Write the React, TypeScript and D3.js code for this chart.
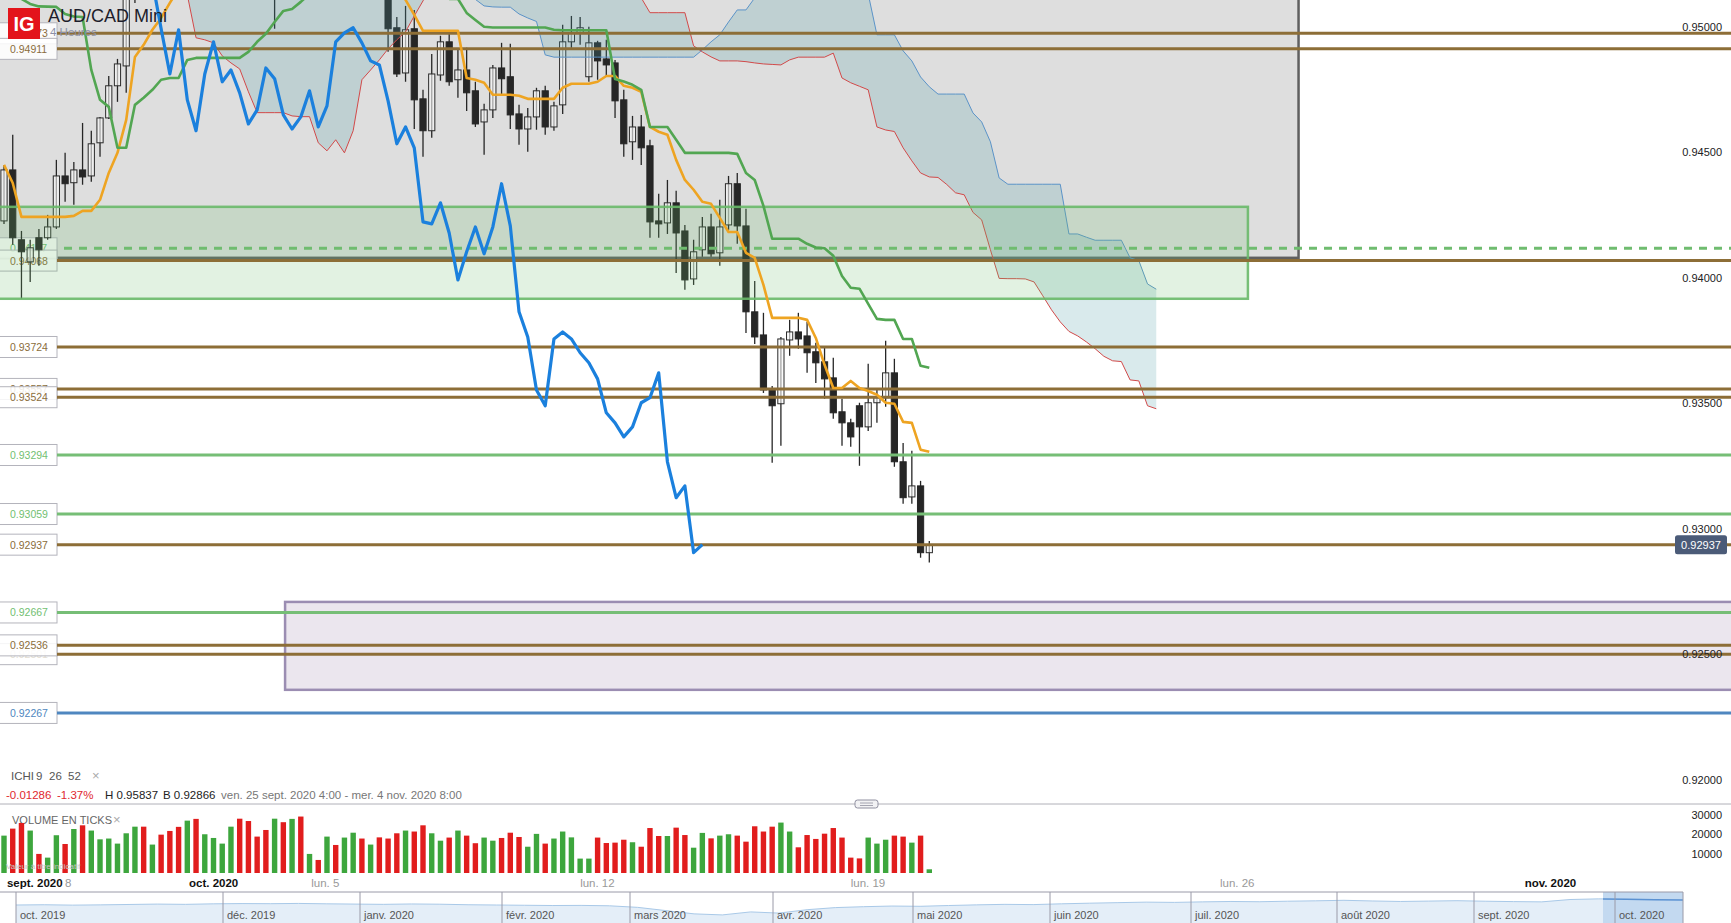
import * as d3 from 'd3';
import React from 'react';

const WIDTH = 1731;
const HEIGHT = 923;
const FONT = '"Liberation Sans", Arial, sans-serif';

// AUD/CAD Mini, 4 Heures -- ven. 25 sept. 2020 4:00 -> mer. 4 nov. 2020 8:00
const opens = [
  0.94226, 0.94429, 0.94151, 0.94063, 0.94159, 0.94159, 0.94202, 0.94405, 0.94378, 0.94429, 0.94405, 0.94537, 0.94636, 0.94764, 0.94843, 0.95270,
  0.95380, 0.95300, 0.95480, 0.95400, 0.95330, 0.95250, 0.95490, 0.95450, 0.95610, 0.95700, 0.95780, 0.95790, 0.95640, 0.95480, 0.95330, 0.95160, 0.95310, 0.95220, 0.95410, 0.95330, 0.95480, 0.95380, 0.95520, 0.95410, 0.95460, 0.95490, 0.95330, 0.95400,
  0.95150, 0.94995, 0.94815, 0.94991, 0.94712, 0.94585, 0.94807, 0.94939, 0.94788, 0.94827, 0.94744, 0.94620, 0.94668, 0.94835, 0.94800, 0.94652, 0.94592, 0.94640, 0.94744, 0.94600, 0.94688, 0.94939, 0.94975, 0.94800, 0.94935, 0.94871, 0.94855, 0.94708, 0.94541, 0.94600, 0.94525, 0.94226, 0.94218, 0.94298, 0.94186, 0.93995, 0.94111, 0.94202, 0.94099, 0.94210, 0.94374, 0.94206, 0.93864, 0.93772, 0.93557, 0.93498, 0.93752, 0.93784, 0.93768, 0.93705, 0.93665, 0.93601, 0.93466, 0.93422, 0.93490, 0.93406, 0.93502, 0.93522, 0.93621, 0.93267, 0.93127, 0.93171, 0.92905,
];
const highs = [
  0.94449, 0.94569, 0.94186, 0.94151, 0.94194, 0.94250, 0.94469, 0.94497, 0.94461, 0.94616, 0.94585, 0.94640, 0.94803, 0.94871, 0.95350, 0.95420,
  0.95450, 0.95510, 0.95540, 0.95440, 0.95390, 0.95520, 0.95580, 0.95640, 0.95720, 0.95837, 0.95820, 0.95810, 0.95680, 0.95520, 0.95380, 0.95350, 0.95400, 0.95440, 0.95470, 0.95520, 0.95530, 0.95560, 0.95580, 0.95500, 0.95530, 0.95520, 0.95450, 0.95440,
  0.95190, 0.95038, 0.95082, 0.95066, 0.94748, 0.94891, 0.94963, 0.94975, 0.94907, 0.94915, 0.94780, 0.94692, 0.94847, 0.94935, 0.94931, 0.94688, 0.94676, 0.94756, 0.94764, 0.94700, 0.95007, 0.95042, 0.95038, 0.94999, 0.94943, 0.94947, 0.94867, 0.94748, 0.94644, 0.94648, 0.94549, 0.94334, 0.94389, 0.94346, 0.94210, 0.94151, 0.94242, 0.94254, 0.94310, 0.94405, 0.94417, 0.94274, 0.93987, 0.93860, 0.93569, 0.93764, 0.93832, 0.93860, 0.93824, 0.93741, 0.93725, 0.93681, 0.93518, 0.93438, 0.93502, 0.93657, 0.93553, 0.93749, 0.93677, 0.93342, 0.93311, 0.93191, 0.92952,
];
const lows = [
  0.94214, 0.94131, 0.93916, 0.93983, 0.94047, 0.94151, 0.94194, 0.94302, 0.94290, 0.94370, 0.94382, 0.94481, 0.94632, 0.94700, 0.94736, 0.95094,
  0.95250, 0.95260, 0.95360, 0.95280, 0.95200, 0.95230, 0.95420, 0.95430, 0.95580, 0.95660, 0.95690, 0.95600, 0.95450, 0.95300, 0.95120, 0.94991, 0.95180, 0.95190, 0.95300, 0.95310, 0.95350, 0.95340, 0.95380, 0.95330, 0.95400, 0.95300, 0.95280, 0.95140,
  0.94899, 0.94799, 0.94780, 0.94592, 0.94481, 0.94557, 0.94784, 0.94764, 0.94716, 0.94664, 0.94600, 0.94489, 0.94636, 0.94724, 0.94592, 0.94529, 0.94501, 0.94589, 0.94569, 0.94585, 0.94652, 0.94915, 0.94927, 0.94780, 0.94788, 0.94800, 0.94636, 0.94481, 0.94469, 0.94449, 0.94159, 0.94159, 0.94174, 0.94019, 0.93952, 0.93971, 0.94083, 0.94083, 0.94047, 0.94190, 0.94135, 0.93780, 0.93736, 0.93541, 0.93263, 0.93331, 0.93689, 0.93717, 0.93621, 0.93581, 0.93518, 0.93438, 0.93331, 0.93327, 0.93251, 0.93390, 0.93422, 0.93486, 0.93247, 0.93100, 0.93100, 0.92885, 0.92866,
];
const closes = [
  0.94429, 0.94159, 0.94103, 0.94119, 0.94111, 0.94202, 0.94405, 0.94374, 0.94429, 0.94401, 0.94533, 0.94636, 0.94764, 0.94851, 0.95280, 0.95380,
  0.95300, 0.95480, 0.95400, 0.95330, 0.95250, 0.95490, 0.95450, 0.95610, 0.95700, 0.95780, 0.95790, 0.95640, 0.95480, 0.95330, 0.95160, 0.95310, 0.95220, 0.95410, 0.95330, 0.95480, 0.95380, 0.95520, 0.95410, 0.95460, 0.95490, 0.95330, 0.95400, 0.95180,
  0.94991, 0.94811, 0.94987, 0.94708, 0.94585, 0.94811, 0.94939, 0.94780, 0.94827, 0.94736, 0.94612, 0.94668, 0.94835, 0.94792, 0.94648, 0.94592, 0.94640, 0.94744, 0.94600, 0.94684, 0.94939, 0.94975, 0.94995, 0.94935, 0.94863, 0.94847, 0.94704, 0.94533, 0.94600, 0.94517, 0.94222, 0.94214, 0.94298, 0.94178, 0.93991, 0.94103, 0.94202, 0.94095, 0.94202, 0.94374, 0.94206, 0.93864, 0.93764, 0.93553, 0.93490, 0.93756, 0.93784, 0.93756, 0.93701, 0.93661, 0.93597, 0.93462, 0.93422, 0.93366, 0.93406, 0.93502, 0.93522, 0.93621, 0.93267, 0.93124, 0.93171, 0.92905, 0.92937,
];
const volumes = [
  19200, 22800, 25700, 21800, 9800, 7900, 19400, 14900, 22600, 24500, 21800, 17300, 17700, 15100, 20400, 23800, 23800, 14600, 19700, 21600,
  23700, 26900, 27800, 19900, 18000, 15100, 23800, 27900, 26700, 18700, 22100, 27900, 26100, 27800, 29000, 9800, 6700, 18700, 14400, 18200,
  20700, 17700, 14600, 18300, 17700, 20400, 21800, 21300, 24500, 20400, 16600, 18200, 21800, 19200, 15300, 18200, 16600, 18000, 20700, 18500,
  13500, 20100, 15100, 17700, 21300, 18300, 7400, 7400, 18200, 15400, 15600, 17100, 15800, 13500, 23100, 19000, 19000, 23300, 19500, 13000,
  20600, 17800, 19200, 19900, 19200, 16100, 24000, 21300, 23800, 25900, 21300, 13200, 19500, 17500, 20200, 23100, 18200, 7900, 7500, 18200,
  15100, 17100, 19200, 18700, 15600, 19200, 1900,
];

// Ichimoku 9 26 52
const tenkan = [
  0.94449, 0.94377, 0.94242, 0.94242, 0.94242, 0.94242, 0.94242, 0.94242, 0.94246, 0.94266, 0.94266, 0.94310, 0.94417, 0.94497, 0.94628, 0.94879, 0.94927, 0.94987, 0.95034, 0.95094,
  0.9515, 0.9521, 0.9527, 0.9533, 0.9538, 0.9543, 0.9548, 0.9551, 0.9553, 0.9553, 0.9553, 0.9552, 0.9550, 0.9547, 0.9545, 0.9545, 0.9543, 0.9540, 0.9538, 0.9535, 0.9533, 0.9530, 0.9527, 0.9525, 0.9522, 0.9517,
  0.95106, 0.95046, 0.94983, 0.94983, 0.94983, 0.94983, 0.94983, 0.94795, 0.94788, 0.94776, 0.94728, 0.94728, 0.94728, 0.94724, 0.94712, 0.94712, 0.94712, 0.94712, 0.94756, 0.94772, 0.94772, 0.94772, 0.94780, 0.94803, 0.94803, 0.94764, 0.94756, 0.94740, 0.94600, 0.94581, 0.94569, 0.94469, 0.94389, 0.94350, 0.94302, 0.94294, 0.94238, 0.94182, 0.94182, 0.94099, 0.94079, 0.93971, 0.93840, 0.93840, 0.93840, 0.93840, 0.93832, 0.93760, 0.93653, 0.93561, 0.93561, 0.93589, 0.93561, 0.93549, 0.93534, 0.93502, 0.93498, 0.93426, 0.93422, 0.93315, 0.93307,
];
const kijun = [
  0.9513, 0.9512, 0.9511,
  0.95090, 0.95080, 0.95079, 0.95078, 0.95050, 0.95040, 0.95038, 0.94827, 0.94708, 0.94680, 0.94517, 0.94517, 0.94688, 0.94716, 0.94748, 0.94788, 0.94795, 0.94795, 0.94867, 0.94875, 0.94875, 0.94875, 0.94875, 0.94875, 0.94875, 0.94899, 0.94939, 0.94971, 0.95018, 0.95062, 0.95070, 0.95098,
  0.9513, 0.9517, 0.9520, 0.9522, 0.9524, 0.9525, 0.9525, 0.9525, 0.9524, 0.9523, 0.9522, 0.9520, 0.9518, 0.9516, 0.9514, 0.9512, 0.9511,
  0.95110, 0.95054, 0.95026, 0.94999, 0.94996, 0.94996, 0.94996, 0.94996, 0.94996, 0.94996, 0.94996, 0.94987, 0.94985, 0.94985, 0.94985, 0.94985, 0.94985, 0.94985, 0.94791, 0.94781, 0.94768, 0.94748, 0.94600, 0.94600, 0.94600, 0.94549, 0.94497, 0.94497, 0.94497, 0.94497, 0.94497, 0.94497, 0.94493, 0.94417, 0.94389, 0.94286, 0.94155, 0.94155, 0.94155, 0.94155, 0.94135, 0.94120, 0.94117, 0.94087, 0.94007, 0.93960, 0.93956, 0.93896, 0.93836, 0.93832, 0.93832, 0.93756, 0.93756, 0.93649, 0.93641,
];
const senkouA = [
  0.9560, 0.9561, 0.9562, 0.9562, 0.9563, 0.9563, 0.9564, 0.9564, 0.9563, 0.9562, 0.9561, 0.9560, 0.9558, 0.9556, 0.9554, 0.9552, 0.9550, 0.9548, 0.9546, 0.9545,
  0.9544, 0.9543, 0.9542, 0.9541, 0.9540, 0.9539, 0.9538, 0.9537, 0.9536, 0.9535, 0.9534, 0.9533, 0.9532, 0.9531, 0.9530, 0.9529, 0.9528, 0.9527, 0.9526, 0.9525,
  0.9524, 0.9523, 0.9522, 0.9521, 0.9520, 0.9519, 0.9518, 0.9517, 0.9516, 0.9515, 0.9514, 0.9513, 0.9512, 0.9511, 0.95108,
  0.95082, 0.95078, 0.95077, 0.95077, 0.95050, 0.95034, 0.95020, 0.94887, 0.94878, 0.94878, 0.94878, 0.94878, 0.94878, 0.94878, 0.94878, 0.94878, 0.94878, 0.94878, 0.94878, 0.94878, 0.94878, 0.94878, 0.94878, 0.94878, 0.94878, 0.94907, 0.94939, 0.94967, 0.95018, 0.95066, 0.95066, 0.95114,
  0.9515, 0.9518, 0.9520, 0.9522, 0.9523, 0.9523, 0.9523, 0.9522, 0.9521, 0.9519, 0.9517, 0.9515, 0.9513,
  0.94967, 0.94967, 0.94967, 0.94903, 0.94863, 0.94799, 0.94760, 0.94731, 0.94731, 0.94731, 0.94731, 0.94656, 0.94620, 0.94541, 0.94397, 0.94372, 0.94372, 0.94372, 0.94372, 0.94372, 0.94372, 0.94372, 0.94174, 0.94174, 0.94161, 0.94149, 0.94149, 0.94149, 0.94149, 0.94079, 0.94068, 0.93975, 0.93954,
];
const senkouB = [
  0.9545, 0.9545, 0.9544, 0.9543, 0.9542, 0.9540, 0.9538, 0.9536, 0.9534, 0.9532, 0.9530, 0.9528, 0.9526, 0.9524, 0.9522, 0.9520, 0.9518, 0.9517, 0.9516, 0.9515, 0.9514,
  0.95126, 0.94955, 0.94947, 0.94935, 0.94883, 0.94855, 0.94831, 0.94740, 0.94657, 0.94657, 0.94657, 0.94657, 0.94644, 0.94641, 0.94641, 0.94537, 0.94505, 0.94549, 0.94497, 0.94585, 0.94788, 0.94827, 0.94867, 0.94911, 0.94947, 0.94979, 0.95042, 0.95102,
  0.9516, 0.9521, 0.9525, 0.9528, 0.9530, 0.9532, 0.9533, 0.9533, 0.9533, 0.9532, 0.9530, 0.9528, 0.9526, 0.9524, 0.9522, 0.9520, 0.9519, 0.9518, 0.9517, 0.9516, 0.9515, 0.9514, 0.9513, 0.9512,
  0.95114, 0.95055, 0.95055, 0.95055, 0.95055, 0.95055, 0.94923, 0.94899, 0.94879, 0.94863, 0.94863, 0.94863, 0.94860, 0.94855, 0.94851, 0.94849, 0.94847, 0.94867, 0.94878, 0.94878, 0.94878, 0.94878, 0.94894, 0.94795, 0.94776, 0.94762, 0.94748,
  0.94600, 0.94588, 0.94582, 0.94517, 0.94465, 0.94417, 0.94401, 0.94399, 0.94371, 0.94338, 0.94330, 0.94260, 0.94230, 0.94111, 0.93997, 0.93996, 0.93996, 0.93995, 0.93983, 0.93928, 0.93872, 0.93824, 0.93786, 0.93768, 0.93744, 0.93717, 0.93687, 0.93669, 0.93666, 0.93593, 0.93589, 0.93490, 0.93478,
];
const CHIKOU_SHIFT = 26;

// horizontal levels drawn on the chart (draw order kept)
const levelPrices = [0.94973, 0.94911, 0.94117, 0.94068, 0.93724, 0.93557, 0.93524, 0.93294, 0.93059, 0.92937, 0.92667, 0.92501, 0.92536, 0.92267];
const levelKinds = ['brown', 'brown', 'greenDash', 'brown', 'brown', 'brown', 'brown', 'green', 'green', 'brown', 'green', 'ghost', 'brown', 'blue'];

// rectangles: price top / bottom, candle index start / end
const zoneKinds = ['gray', 'purple', 'green'];
const zoneTop = [0.9600, 0.92709, 0.94282];
const zoneBottom = [0.94079, 0.92359, 0.93916];
const zoneStart = [-3, 32.2, -3];
const zoneEnd = [148.3, 210, 142.5];

const priceTicks = [0.95, 0.945, 0.94, 0.935, 0.93, 0.925, 0.92];
const volumeTicks = [30000, 20000, 10000];
const lastPrice = 0.92937;

const timeLabels = ['sept. 2020', '8', 'oct. 2020', 'lun. 5', 'lun. 12', 'lun. 19', 'lun. 26', 'nov. 2020'];
const timeLabelIdx = [0.34, 7, 21.2, 35.2, 66, 97, 139.3, 174.2];
const timeLabelMajor = [true, false, true, false, false, false, false, true];

const navMonths = ['oct. 2019', 'déc. 2019', 'janv. 2020', 'févr. 2020', 'mars 2020', 'avr. 2020', 'mai 2020', 'juin 2020', 'juil. 2020', 'août 2020', 'sept. 2020', 'oct. 2020'];
const navMonthDates = ['2019-10-01', '2019-12-01', '2020-01-01', '2020-02-01', '2020-03-01', '2020-04-01', '2020-05-01', '2020-06-01', '2020-07-01', '2020-08-01', '2020-09-01', '2020-10-01', '2020-11-04'];
const navValues = [
  0.888, 0.890, 0.887, 0.889, 0.892, 0.895, 0.893, 0.897, 0.899, 0.898, 0.900, 0.897, 0.895, 0.893, 0.896, 0.894, 0.890, 0.888, 0.886, 0.884,
  0.885, 0.882, 0.870, 0.845, 0.820, 0.812, 0.835, 0.826, 0.852, 0.868, 0.875, 0.880, 0.878, 0.884, 0.889, 0.893, 0.891, 0.897, 0.902, 0.906,
  0.910, 0.908, 0.912, 0.915, 0.913, 0.917, 0.920, 0.924, 0.919, 0.915, 0.918, 0.921, 0.917, 0.914, 0.912, 0.930, 0.935, 0.933, 0.929, 0.927,
];
const navSelectFrom = '2020-10-15';

const LEVEL_COLOR: Record<string, string> = {
  brown: '#8d6e37', ghost: '#8d6e37', green: '#76be76', greenDash: '#6fbc6f', blue: '#4f87c0',
};
const LABEL_COLOR: Record<string, string> = {
  brown: '#8a6d3b', ghost: '#e2ddd2', green: '#72c072', greenDash: '#72c072', blue: '#4f87c0',
};

export default function App() {
  const n = closes.length;
  const x = d3.scaleLinear().domain([0, 106]).range([4, 929.3]);
  const y = d3.scaleLinear().domain([0.92, 0.95]).range([780, 26.5]);
  const vy = d3.scaleLinear().domain([0, 30000]).range([873, 814.6]);

  const lineOf = (vals: number[]) =>
    d3.line<number>().x((_, i) => x(i)).y(v => y(v))(vals) || '';

  const cloudIdx = d3.range(Math.min(senkouA.length, senkouB.length));
  const cloud = d3.area<number>()
    .x(i => x(i)).y0(i => y(senkouA[i])).y1(i => y(senkouB[i]))(cloudIdx) || '';
  const chikou = closes.slice(CHIKOU_SHIFT);

  const navX = d3.scaleTime()
    .domain(navMonthDates.map(d => new Date(d)))
    .range([16, 223, 360, 502, 630, 773, 913, 1050, 1191, 1337, 1474, 1615, 1683]);
  const navY = d3.scaleLinear().domain([0.75, 0.98]).range([923, 893]);
  const navXi = d3.scaleLinear().domain([0, navValues.length - 1]).range(navX.range().filter((_, i, a) => i === 0 || i === a.length - 1));
  const navArea = d3.area<number>().x((_, i) => navXi(i)).y0(HEIGHT).y1(v => navY(v))(navValues) || '';
  const navLine = d3.line<number>().x((_, i) => navXi(i)).y(v => navY(v))(navValues) || '';
  const selX = navX(new Date(navSelectFrom)) - 40;

  const bodyW = 6.2;

  return (
    <div style={{ position: 'absolute', left: 0, top: 0 }}>
      <svg width={WIDTH} height={HEIGHT} style={{ display: 'block', fontFamily: FONT }}>
        <defs>
          <clipPath id="plot"><rect x={0} y={0} width={WIDTH} height={803} /></clipPath>
          <clipPath id="nav"><rect x={0} y={892} width={1683} height={31} /></clipPath>
          <clipPath id="navSel"><rect x={selX} y={892} width={1683 - selX} height={31} /></clipPath>
        </defs>
        <rect x={0} y={0} width={WIDTH} height={HEIGHT} fill="#fff" />

        <g clipPath="url(#plot)">
          {/* gray and purple zones below the marks */}
          {zoneKinds.map((k, i) => k === 'green' ? null : (
            <rect key={k} x={x(zoneStart[i])} y={y(zoneTop[i])}
              width={x(zoneEnd[i]) - x(zoneStart[i])} height={y(zoneBottom[i]) - y(zoneTop[i])}
              fill={k === 'gray' ? '#dedede' : '#ebe6ee'}
              stroke={k === 'gray' ? '#606060' : '#9b8db2'} strokeWidth={2.5} />
          ))}

          {/* level label boxes */}
          {levelPrices.map((p, i) => (
            <g key={'lb' + i}>
              <rect x={-1} y={y(p) - 10.5} width={58} height={21} fill="rgba(255,255,255,0.86)" stroke="#b4b4bc" strokeWidth={1} />
              <text x={10} y={y(p) + 4} fontSize={10.5} fill={LABEL_COLOR[levelKinds[i]]}>{p.toFixed(5)}</text>
            </g>
          ))}

          {/* candles */}
          {d3.range(n).map(i => {
            const up = closes[i] >= opens[i];
            const top = y(Math.max(opens[i], closes[i]));
            const h = Math.max(1, Math.abs(y(opens[i]) - y(closes[i])));
            return (
              <g key={'c' + i}>
                <line x1={x(i)} x2={x(i)} y1={y(highs[i])} y2={y(lows[i])} stroke="#262626" strokeWidth={1.3} />
                <rect x={x(i) - bodyW / 2} y={top} width={bodyW} height={h}
                  fill={up ? 'rgba(250,250,250,0.6)' : '#262626'} stroke={up ? '#2a2a2a' : '#262626'} strokeWidth={1} />
              </g>
            );
          })}

          {/* kumo */}
          <path d={cloud} fill="rgba(80,160,170,0.22)" />
          <path d={lineOf(senkouA)} fill="none" stroke="#5b93c8" strokeWidth={1} />
          <path d={lineOf(senkouB)} fill="none" stroke="#d24a4a" strokeWidth={1} />

          {/* green zone over the candles */}
          {zoneKinds.map((k, i) => k !== 'green' ? null : (
            <rect key={k} x={x(zoneStart[i])} y={y(zoneTop[i])}
              width={x(zoneEnd[i]) - x(zoneStart[i])} height={y(zoneBottom[i]) - y(zoneTop[i])}
              fill="rgba(110,190,110,0.2)" stroke="rgba(105,185,105,0.9)" strokeWidth={2.5} />
          ))}

          {/* horizontal levels */}
          {levelPrices.map((p, i) => (
            <line key={'lv' + i} x1={levelKinds[i] === 'greenDash' ? 64 : 57} x2={WIDTH} y1={y(p)} y2={y(p)}
              stroke={LEVEL_COLOR[levelKinds[i]]} strokeWidth={3}
              strokeDasharray={levelKinds[i] === 'greenDash' ? '8 7' : undefined} />
          ))}

          <path d={lineOf(tenkan)} fill="none" stroke="#eea422" strokeWidth={2.6} strokeLinejoin="round" />
          <path d={lineOf(kijun)} fill="none" stroke="#52a652" strokeWidth={2.6} strokeLinejoin="round" />
          <path d={lineOf(chikou)} fill="none" stroke="#1b80dd" strokeWidth={3.2} strokeLinejoin="round" />
        </g>

        {/* right price axis */}
        {priceTicks.map(t => (
          <text key={'pt' + t} x={1722} y={y(t) + 4} fontSize={11} fill="#222" textAnchor="end">{t.toFixed(5)}</text>
        ))}
        <rect x={1675} y={y(lastPrice) - 9.5} width={52} height={19} rx={2.5} fill="#4b5b78" />
        <text x={1701} y={y(lastPrice) + 4} fontSize={11} fill="#fff" textAnchor="middle">{lastPrice.toFixed(5)}</text>

        {/* header */}
        <rect x={8} y={8} width={32} height={31} fill="#e3141b" />
        <text x={24} y={31} fontSize={20} fontWeight="bold" fill="#fff" textAnchor="middle">IG</text>
        <text x={48} y={22} fontSize={18} fill="#1d1d2b">AUD/CAD Mini</text>
        <text x={50} y={36} fontSize={11.5} fill="#8a90a8">4 Heures</text>

        {/* indicator legend */}
        <text y={780} fontSize={11.5} fill="#555">
          <tspan x={11}>ICHI</tspan><tspan x={36}>9</tspan><tspan x={49}>26</tspan><tspan x={68}>52</tspan>
        </text>
        <text x={92} y={780} fontSize={13} fill="#aaa">×</text>
        <text y={799} fontSize={11.5}>
          <tspan x={6} fill="#e0282e">-0.01286</tspan>
          <tspan x={57} fill="#e0282e">-1.37%</tspan>
          <tspan x={105} fill="#222">H 0.95837</tspan>
          <tspan x={163} fill="#222">B 0.92866</tspan>
          <tspan x={221} fill="#777">ven. 25 sept. 2020 4:00 - mer. 4 nov. 2020 8:00</tspan>
        </text>

        {/* panel separator */}
        <line x1={0} x2={WIDTH} y1={804} y2={804} stroke="#b0b0b8" strokeWidth={1} />
        <rect x={855} y={800} width={23} height={8} rx={2.5} fill="#f2f2f4" stroke="#9090a0" strokeWidth={1} />
        <line x1={860} x2={873} y1={803} y2={803} stroke="#9090a0" strokeWidth={0.8} />
        <line x1={860} x2={873} y1={805.5} y2={805.5} stroke="#9090a0" strokeWidth={0.8} />

        {/* volume */}
        <text x={12} y={824} fontSize={11} fill="#666">VOLUME EN TICKS</text>
        <text x={113} y={824} fontSize={13} fill="#aaa">×</text>
        {volumes.map((v, i) => (
          <rect key={'v' + i} x={x(i) - 2.7} y={vy(v)} width={5.4} height={vy(0) - vy(v)}
            fill={closes[i] >= opens[i] ? '#3da63d' : '#e11d1d'} />
        ))}
        <text x={6} y={869} fontSize={8} fill="#c4c4c4">Valeur à titre indicatif</text>
        {volumeTicks.map(t => (
          <text key={'vt' + t} x={1722} y={vy(t) + 4} fontSize={11} fill="#222" textAnchor="end">{t}</text>
        ))}

        {/* time axis */}
        {timeLabels.map((t, i) => (
          <text key={'tl' + i} x={x(timeLabelIdx[i])} y={887} fontSize={11.5}
            fill={timeLabelMajor[i] ? '#111' : '#999'} fontWeight={timeLabelMajor[i] ? 600 : 400}>{t}</text>
        ))}

        {/* navigator */}
        <g clipPath="url(#nav)">
          <path d={navArea} fill="#e4eef8" />
          <path d={navLine} fill="none" stroke="#a9c9e8" strokeWidth={1} />
          <g clipPath="url(#navSel)">
            <rect x={selX} y={892} width={1683 - selX} height={31} fill="#c3d9f0" />
            <path d={navLine} fill="none" stroke="#5a91d2" strokeWidth={1.5} />
          </g>
        </g>
        <line x1={0} x2={1683} y1={892} y2={892} stroke="#9a9aa8" strokeWidth={1} />
        <line x1={1683} x2={1683} y1={892} y2={HEIGHT} stroke="#9a9aa8" strokeWidth={1} />
        {navMonths.map((m, i) => {
          const mx = navX(new Date(navMonthDates[i]));
          return (
            <g key={'nm' + i}>
              <line x1={mx} x2={mx} y1={892} y2={HEIGHT} stroke="#9a9aa8" strokeWidth={1} />
              <text x={mx + 4} y={919} fontSize={11} fill="#555">{m}</text>
            </g>
          );
        })}
      </svg>
    </div>
  );
}
